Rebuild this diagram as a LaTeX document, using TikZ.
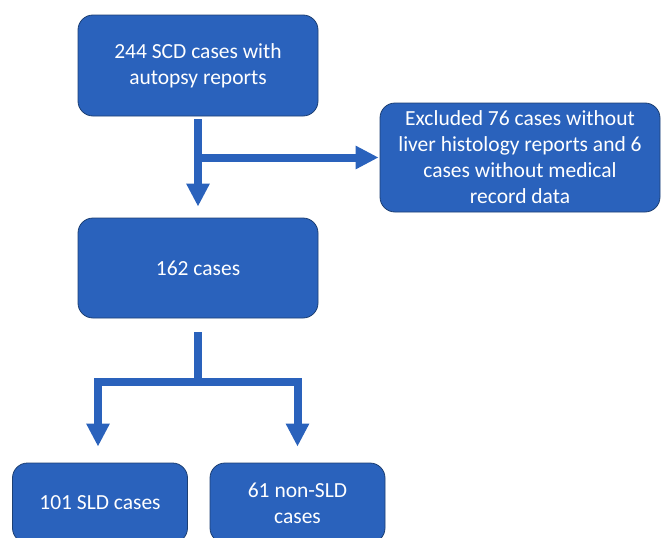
\documentclass[tikz,border=0pt]{standalone}
\usepackage{fontspec}
\setmainfont{Carlito}
\usetikzlibrary{arrows.meta}
\definecolor{boxblue}{HTML}{2A62BC}
\definecolor{edgeblue}{HTML}{1C3F73}
\begin{document}
\begin{tikzpicture}[x=1pt,y=-1pt,
  box/.style={draw=edgeblue,line width=0.8pt,fill=boxblue,rounded corners=15pt,
    text=white,align=center,inner sep=0pt,
    font=\fontsize{21.5pt}{26pt}\selectfont},
  conn/.style={draw=boxblue,line width=8pt,line join=miter},
  tipconn/.style={conn,-{Triangle[length=23pt,width=22pt]}}]
\useasboundingbox (0,0) rectangle (662,538);
\clip (0,0) rectangle (662,538);
\node[box,minimum width=240pt,minimum height=101pt] (b1) at (198,65.5) {244 SCD cases with\\autopsy reports};
\node[box,minimum width=280pt,minimum height=109pt] (ex) at (520,157.5) {Excluded 76 cases without\\liver histology reports and 6\\cases without medical\\record data};
\node[box,minimum width=240pt,minimum height=100pt] (b3) at (198,268) {162 cases};
\node[box,minimum width=175pt,minimum height=80pt] (b4) at (100,503) {101 SLD cases};
\node[box,minimum width=175pt,minimum height=80pt] (b5) at (297.5,503) {61 non-SLD\\cases};
\draw[tipconn,shorten <=3pt,shorten >=11pt] (b1.south) -- (b3.north);
\draw[conn] (b1.south |- ex.west) -- ++(4,0);
\draw[tipconn,shorten >=1pt] ([xshift=-4pt]b1.south |- ex.west) -- (ex.west);
\coordinate (j) at (198,382);
\draw[conn,shorten <=14pt] (b3.south) -- ([yshift=4pt]j);
\draw[tipconn,shorten >=16pt] ([xshift=4pt]j) -| ([xshift=-2pt]b4.north);
\draw[tipconn,shorten >=16pt] ([xshift=-4pt]j) -| (b5.north);
\end{tikzpicture}
\end{document}
